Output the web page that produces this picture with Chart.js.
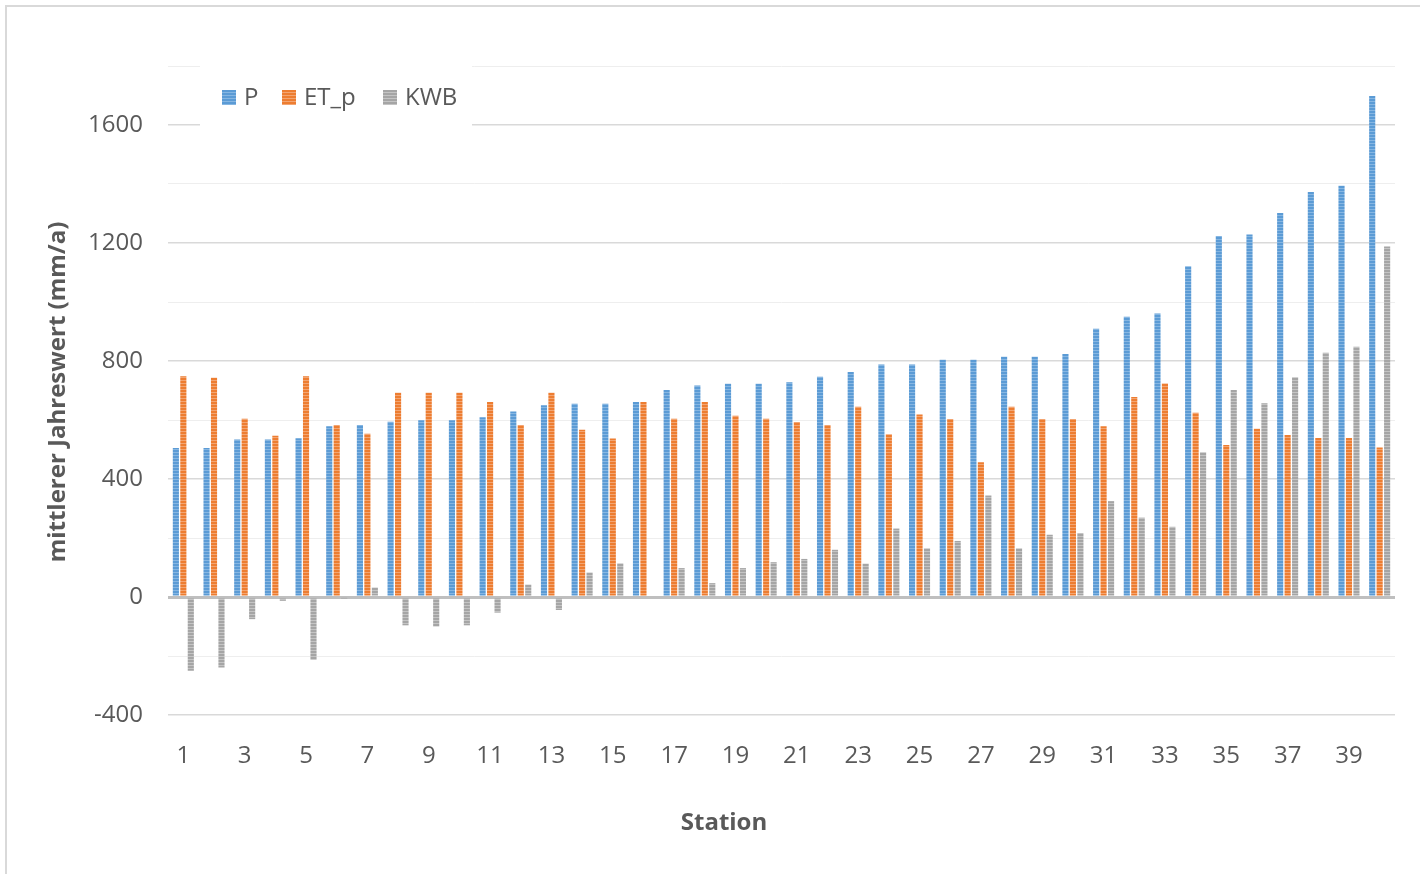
<!DOCTYPE html>
<html>
<head>
<meta charset="utf-8">
<script src="https://cdn.jsdelivr.net/npm/chart.js@4/dist/chart.umd.min.js"></script>
<style>
  html, body { margin: 0; padding: 0; background: #ffffff; }
  #wrap { position: absolute; left: 0; top: 0; width: 1420px; height: 874px; }
</style>
</head>
<body>
<div id="wrap"><canvas id="c" width="1420" height="874"></canvas></div>
<script>
// Station numbers 1..40
const stations = ["1","2","3","4","5","6","7","8","9","10","11","12","13","14","15","16","17","18","19","20",
                  "21","22","23","24","25","26","27","28","29","30","31","32","33","34","35","36","37","38","39","40"];

// Mean annual precipitation P (mm/a)
const precip = [505,505,534,534,538,579,583,594,599,599,609,629,650,655,655,661,702,717,723,723,
                728,747,763,788,788,804,804,814,814,824,909,950,961,1121,1224,1229,1302,1373,1394,1698];

// Mean annual potential evapotranspiration ET_p (mm/a)
const etp = [748,743,604,547,748,583,553,692,692,692,661,583,692,567,537,661,604,661,614,604,
             593,583,645,552,619,603,457,645,603,603,579,678,724,625,515,570,549,539,539,507];

// Climatic water balance KWB (mm/a)
const kwb = [-250,-239,-75,-13,-213,-3,32,-96,-100,-96,-53,42,-44,83,114,0,98,47,98,118,
             129,160,113,232,165,190,344,165,211,217,325,269,238,491,702,657,745,828,848,1188];

const seriesNames = ["P", "ET_p", "KWB"];

// Horizontal stripe fill for the bars
function stripes(base, light) {
  const p = document.createElement("canvas");
  p.width = 4; p.height = 3;
  const g = p.getContext("2d");
  g.fillStyle = base; g.fillRect(0, 0, 4, 3);
  g.fillStyle = light; g.fillRect(0, 2, 4, 1);
  return g.createPattern(p, "repeat");
}
const ctx = document.getElementById("c").getContext("2d");
const fills = [
  stripes("#5B9BD5", "#86B6E2"),
  stripes("#ED7D31", "#F3A572"),
  stripes("#A5A5A5", "#C4C4C4")
];

const FONT = "'Open Sans', 'Noto Sans', sans-serif";
const TXT = "#595959";

const frame = {
  id: "frame",
  beforeDraw(chart) {
    const c = chart.ctx;
    c.save();
    c.fillStyle = "#ffffff";
    c.fillRect(0, 0, chart.width, chart.height);
    c.strokeStyle = "#D9D9D9";
    c.lineWidth = 2;
    c.beginPath();
    c.moveTo(6, chart.height + 5);
    c.lineTo(6, 6);
    c.lineTo(chart.width + 5, 6);
    c.stroke();
    c.restore();
  },
  beforeDatasetsDraw(chart) {
    // legend box sitting over the plot area
    const c = chart.ctx;
    c.save();
    c.fillStyle = "#ffffff";
    c.fillRect(200, 60, 272, 72);
    c.font = "24px " + FONT;
    c.textBaseline = "middle";
    const xs = [222, 282, 383];
    chart.data.datasets.forEach((ds, i) => {
      c.fillStyle = fills[i];
      c.fillRect(xs[i], 90, 14, 15);
      c.fillStyle = TXT;
      c.fillText(ds.label, xs[i] + 22, 98);
    });
    c.restore();
  },
  afterDraw(chart) {
    const c = chart.ctx;
    c.save();
    c.fillStyle = TXT;
    c.font = "bold 24px " + FONT;
    c.textAlign = "center";
    c.textBaseline = "middle";
    c.fillText("Station", 724, 823);
    c.translate(58, 392);
    c.rotate(-Math.PI / 2);
    c.fillText("mittlerer Jahreswert (mm/a)", 0, 0);
    c.restore();
  }
};

new Chart(ctx, {
  type: "bar",
  data: {
    labels: stations,
    datasets: [precip, etp, kwb].map((vals, i) => ({
      label: seriesNames[i],
      data: vals,
      backgroundColor: fills[i],
      borderWidth: 0,
      categoryPercentage: 0.73,
      barPercentage: 0.82
    }))
  },
  options: {
    responsive: false,
    animation: false,
    devicePixelRatio: 1,
    layout: { padding: { left: 0, top: 66, right: 25, bottom: 0 } },
    plugins: { legend: { display: false }, tooltip: { enabled: false } },
    scales: {
      x: {
        grid: { display: false, drawTicks: false },
        border: { display: false },
        ticks: {
          autoSkip: false,
          maxRotation: 0,
          padding: 27,
          color: TXT,
          font: { family: FONT, size: 24 },
          callback: (v, i) => (i % 2 === 0 ? stations[i] : "")
        },
        afterFit: s => { s.height = 159; }
      },
      y: {
        min: -400,
        max: 1800,
        border: { display: false },
        grid: {
          drawTicks: false,
          color: c => c.tick.value === 0 ? "#BFBFBF" : (c.tick.value % 400 === 0 ? "#D9D9D9" : "#EEEEEE"),
          lineWidth: c => c.tick.value === 0 ? 3 : (c.tick.value % 400 === 0 ? 1.5 : 1)
        },
        ticks: {
          stepSize: 100,
          padding: 25,
          color: TXT,
          font: { family: FONT, size: 24 },
          callback: v => (v % 400 === 0 && v !== 1800) ? String(v) : ""
        },
        afterFit: s => { s.width = 168; }
      }
    }
  },
  plugins: [frame]
});
</script>
</body>
</html>
